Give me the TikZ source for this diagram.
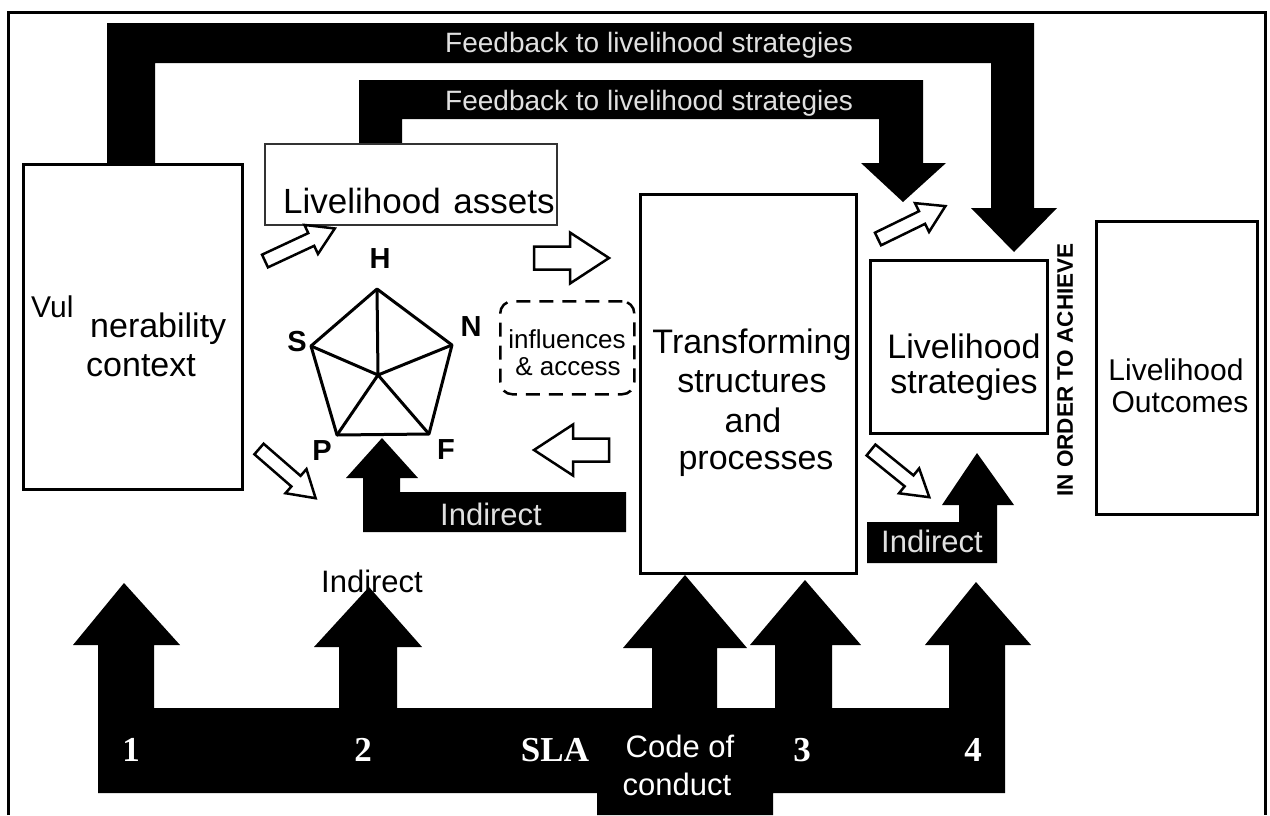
\documentclass[tikz,border=0pt]{standalone}
\usepackage{fontspec}
\setmainfont{Liberation Sans}
\newfontfamily\numfont{Liberation Serif}
\newcommand\fs[1]{\fontsize{#1}{#1}\selectfont}
\newcommand\harrow[6]{\draw[hollow, shift={#1}, rotate=#2] (0,-#4) -- ({#3-#6},-#4) -- ({#3-#6},-#5) -- (#3,0) -- ({#3-#6},#5) -- ({#3-#6},#4) -- (0,#4) -- cycle;}
\begin{document}
\begin{tikzpicture}[x=1pt,y=-1pt,
  box/.style={draw, line width=3pt, fill=white, inner sep=0pt, anchor=north west},
  blk/.style={fill=black},
  hollow/.style={draw, fill=white, line width=2.5pt, line join=miter},
  txt/.style={inner sep=0pt, anchor=base},
  big/.style={txt, font=\fs{34}},
  wtxt/.style={txt, text=white!88!black},
  lett/.style={inner sep=0pt, font=\fs{29}\bfseries},
  num/.style={txt, text=white, font=\numfont\fs{35}\bfseries}]
\useasboundingbox (0,0) rectangle (1270,815);
% outer frame
\draw[line width=3pt] (8,815) -- (8,12) -- (1265,12) -- (1265,815);
% feedback bands
\fill[blk] (107,165) -- (107,23) -- (1034,23) -- (1034,208) -- (1057,208) -- (1014,252) -- (971,208) -- (991,208) -- (991,63) -- (155,63) -- (155,165) -- cycle;
\fill[blk] (359,145) -- (359,80) -- (923,80) -- (923,163) -- (946,163) -- (903,202) -- (861,163) -- (879,163) -- (879,119) -- (402,119) -- (402,145) -- cycle;
\node[wtxt, anchor=base west, font=\fs{28}] (fb1) at (445,52) {Feedback to livelihood strategies};
\node[wtxt, anchor=base west, font=\fs{28}] (fb2) at (445,110) {Feedback to livelihood strategies};
% boxes
\node[box, minimum width=219pt, minimum height=325pt] (vul) at (22,163) {};
\node[box, line width=2pt, draw=black!80, minimum width=292pt, minimum height=81pt] (assets) at (264,143) {};
\node[box, minimum width=216pt, minimum height=379pt] (trans) at (639,193) {};
\node[box, minimum width=177pt, minimum height=173pt] (strat) at (869,259) {};
\node[box, minimum width=161pt, minimum height=293pt] (outc) at (1095,220) {};
% box texts
\node[txt, anchor=base west, font=\fs{30}] (vul1) at (31,317) {Vul};
\node[big, anchor=base west] (vul2) at (90,337) {nerability};
\node[big, anchor=base west] (vul3) at (86,376) {context};
\node[big, anchor=base west, font=\fs{35}] (as1) at (283,213) {Livelihood\hspace{3pt} assets};
\node[big] (tr1) at (752,353) {Transforming};
\node[big] (tr2) at (752,392) {structures};
\node[big] (tr3) at (753,432) {and};
\node[big] (tr4) at (756,469) {processes};
\node[big] (st1) at (964,358) {Livelihood};
\node[big] (st2) at (964,393) {strategies};
\node[txt, font=\fs{30}] (oc1) at (1176,380) {Livelihood};
\node[txt, font=\fs{30}] (oc2) at (1180,412) {Outcomes};
\node[inner sep=0pt, rotate=90, font=\fs{22.5}\bfseries] (order) at (1065,370) {IN ORDER TO ACHIEVE};
% pentagon
\coordinate (pH) at (377,289);
\coordinate (pN) at (452,345);
\coordinate (pF) at (429,434);
\coordinate (pP) at (337,435);
\coordinate (pS) at (311,346);
\coordinate (pC) at (378,375);
\draw[line width=3pt, line join=round] (pH) -- (pN) -- (pF) -- (pP) -- (pS) -- cycle;
\draw[line width=3pt] (pC) -- (pH) (pC) -- (pN) (pC) -- (pF) (pC) -- (pP) (pC) -- (pS);
\node[lett] (lH) at (380,259) {H};
\node[lett] (lS) at (297,342) {S};
\node[lett] (lN) at (471,327) {N};
\node[lett] (lP) at (322,451) {P};
\node[lett] (lF) at (446,450) {F};
% influences & access
\node[draw, dashed, dash pattern=on 14pt off 9pt, line width=2.5pt, rounded corners=12pt, minimum width=134pt, minimum height=93pt, anchor=north west, inner sep=0pt] (infl) at (499,300) {};
\node[txt, font=\fs{26}] (in1) at (567,348) {influences};
\node[txt, font=\fs{26}] (in2) at (568,375) {\& access};
% hollow arrows
\harrow{(534,258)}{0}{75}{11.5}{25.5}{39}
\harrow{(609,450)}{180}{75}{11.5}{25.5}{39}
\harrow{(265,261)}{25}{77}{7}{16}{26}
\harrow{(259,449)}{-41}{75}{7}{16}{26}
\harrow{(878,239)}{26}{75}{7}{16}{26}
\harrow{(871,450)}{-39}{75}{7}{16}{26}
% indirect arrows
\fill[blk] (363,532) -- (363,478) -- (346,478) -- (382,438) -- (418,478) -- (400,478) -- (400,492) -- (626,492) -- (626,532) -- cycle;
\node[wtxt, font=\fs{31}] (ind1) at (491,525) {Indirect};
\fill[blk] (867,522) -- (959,522) -- (959,505) -- (942,505) -- (977,453) -- (1014,505) -- (997,505) -- (997,563) -- (867,563) -- cycle;
\node[wtxt, font=\fs{31}] (ind2) at (932,552) {Indirect};
% bottom structure
\fill[blk] (98,793) -- (98,645) -- (73,645) -- (124,583) -- (180,645) -- (154,645) -- (154,708)
  -- (339,708) -- (339,647) -- (314,647) -- (369,587) -- (422,647) -- (397,647) -- (397,708)
  -- (652,708) -- (652,648) -- (623,648) -- (685,575) -- (747,648) -- (717,648) -- (717,708)
  -- (775,708) -- (775,645) -- (750,645) -- (805,580) -- (861,645) -- (832,645) -- (832,708)
  -- (949,708) -- (949,645) -- (925,645) -- (976,582) -- (1031,645) -- (1005,645) -- (1005,793)
  -- (773,793) -- (773,815) -- (597,815) -- (597,793) -- cycle;
\node[txt, font=\fs{31}] (ind3) at (372,592) {Indirect};
\node[num] (n1) at (131,761) {1};
\node[num] (n2) at (363,761) {2};
\node[num] (sla) at (555,761) {SLA};
\node[num] (n3) at (802,761) {3};
\node[num] (n4) at (973,761) {4};
\node[txt, text=white, font=\fs{31}] (code1) at (680,757) {Code of};
\node[txt, text=white, font=\fs{31}] (code2) at (677,795) {conduct};
\end{tikzpicture}
\end{document}
